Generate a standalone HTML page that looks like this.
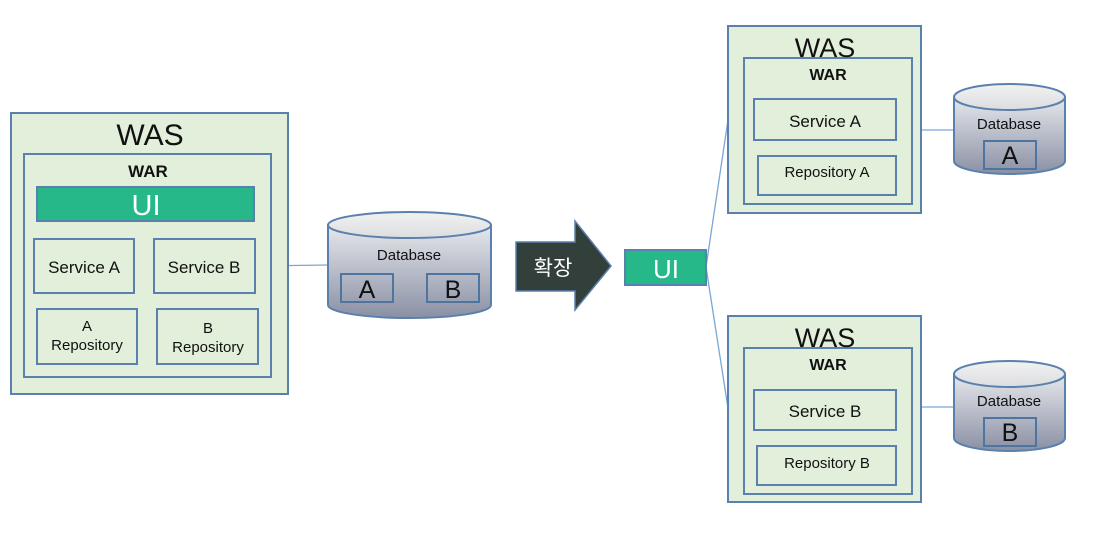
<!DOCTYPE html>
<html><head><meta charset="utf-8"><style>
html,body{margin:0;padding:0;background:#fff;width:1100px;height:545px;overflow:hidden}
svg text{font-family:"Liberation Sans","Noto Sans CJK KR",sans-serif;fill:#111}
</style></head><body>
<svg width="1100" height="545" viewBox="0 0 1100 545" xmlns="http://www.w3.org/2000/svg">
<defs>
<linearGradient id="cyl" x1="0" y1="0" x2="0" y2="1">
<stop offset="0" stop-color="#e6e8ec"/><stop offset="1" stop-color="#8a90a4"/>
</linearGradient>
<linearGradient id="top" x1="0" y1="0" x2="0" y2="1">
<stop offset="0" stop-color="#f2f2f2"/><stop offset="1" stop-color="#dcdde0"/>
</linearGradient>
</defs>
<g stroke="#7aa6d6" stroke-width="1.3" fill="none">
<line x1="255" y1="266" x2="328" y2="265"/>
<line x1="706" y1="267" x2="728" y2="120"/>
<line x1="706" y1="267" x2="728" y2="408"/>
<line x1="921" y1="130" x2="954" y2="130"/>
<line x1="921" y1="407" x2="954" y2="407"/>
</g>
<g stroke="#5a80ad" stroke-width="2" fill="#e2efda">
<rect x="11" y="113" width="277" height="281"/>
<rect x="24" y="154" width="247" height="223"/>
<rect x="34" y="239" width="100" height="54"/>
<rect x="154" y="239" width="101" height="54"/>
<rect x="37" y="309" width="100" height="55"/>
<rect x="157" y="309" width="101" height="55"/>
<rect x="728" y="26" width="193" height="187"/>
<rect x="744" y="58" width="168" height="146"/>
<rect x="754" y="99" width="142" height="41"/>
<rect x="758" y="156" width="138" height="39"/>
<rect x="728" y="316" width="193" height="186"/>
<rect x="744" y="348" width="168" height="146"/>
<rect x="754" y="390" width="142" height="40"/>
<rect x="757" y="446" width="139" height="39"/>
</g>
<g stroke="#5a80ad" stroke-width="2" fill="#26b889">
<rect x="37" y="187" width="217" height="34"/>
<rect x="625" y="250" width="81" height="35"/>
</g>
<g stroke="#5a80ad" stroke-width="2">
<path d="M328 225 L328 305 A81.5 13 0 0 0 491 305 L491 225 Z" fill="url(#cyl)"/>
<ellipse cx="409.5" cy="225" rx="81.5" ry="13" fill="url(#top)"/>
<path d="M954 97 L954 161 A55.5 13 0 0 0 1065 161 L1065 97 Z" fill="url(#cyl)"/>
<ellipse cx="1009.5" cy="97" rx="55.5" ry="13" fill="url(#top)"/>
<path d="M954 374 L954 438 A55.5 13 0 0 0 1065 438 L1065 374 Z" fill="url(#cyl)"/>
<ellipse cx="1009.5" cy="374" rx="55.5" ry="13" fill="url(#top)"/>
</g>
<g stroke="#4e74a0" stroke-width="2" fill="none">
<rect x="341" y="274" width="52" height="28"/>
<rect x="427" y="274" width="52" height="28"/>
<rect x="984" y="141" width="52" height="28"/>
<rect x="984" y="418" width="52" height="28"/>
</g>
<polygon points="516,242 575,242 575,221 611,266 575,310 575,291 516,291" fill="#333f3a" stroke="#5a80ad" stroke-width="1.5"/>
<text x="150" y="145" font-size="30" text-anchor="middle">WAS</text>
<text x="148" y="177" font-size="17" text-anchor="middle" font-weight="bold">WAR</text>
<text x="146" y="215" font-size="29" text-anchor="middle" style="fill:#fff">UI</text>
<text x="84" y="273" font-size="17" text-anchor="middle">Service A</text>
<text x="204" y="273" font-size="17" text-anchor="middle">Service B</text>
<text x="87" y="331" font-size="15" text-anchor="middle">A</text>
<text x="87" y="350" font-size="15" text-anchor="middle">Repository</text>
<text x="208" y="333" font-size="15" text-anchor="middle">B</text>
<text x="208" y="352" font-size="15" text-anchor="middle">Repository</text>
<text x="409" y="260" font-size="15" text-anchor="middle">Database</text>
<text x="367" y="298" font-size="25" text-anchor="middle">A</text>
<text x="453" y="298" font-size="25" text-anchor="middle">B</text>
<text x="553" y="275" font-size="21" text-anchor="middle" style="fill:#fff">확장</text>
<text x="666" y="278" font-size="26" text-anchor="middle" style="fill:#fff">UI</text>
<text x="825" y="57" font-size="27" text-anchor="middle">WAS</text>
<text x="828" y="80" font-size="16" text-anchor="middle" font-weight="bold">WAR</text>
<text x="825" y="127" font-size="17" text-anchor="middle">Service A</text>
<text x="827" y="177" font-size="15" text-anchor="middle">Repository A</text>
<text x="1009" y="129" font-size="15" text-anchor="middle">Database</text>
<text x="1010" y="164" font-size="25" text-anchor="middle">A</text>
<text x="825" y="347" font-size="27" text-anchor="middle">WAS</text>
<text x="828" y="370" font-size="16" text-anchor="middle" font-weight="bold">WAR</text>
<text x="825" y="417" font-size="17" text-anchor="middle">Service B</text>
<text x="827" y="468" font-size="15" text-anchor="middle">Repository B</text>
<text x="1009" y="406" font-size="15" text-anchor="middle">Database</text>
<text x="1010" y="441" font-size="25" text-anchor="middle">B</text>
</svg>
</body></html>
